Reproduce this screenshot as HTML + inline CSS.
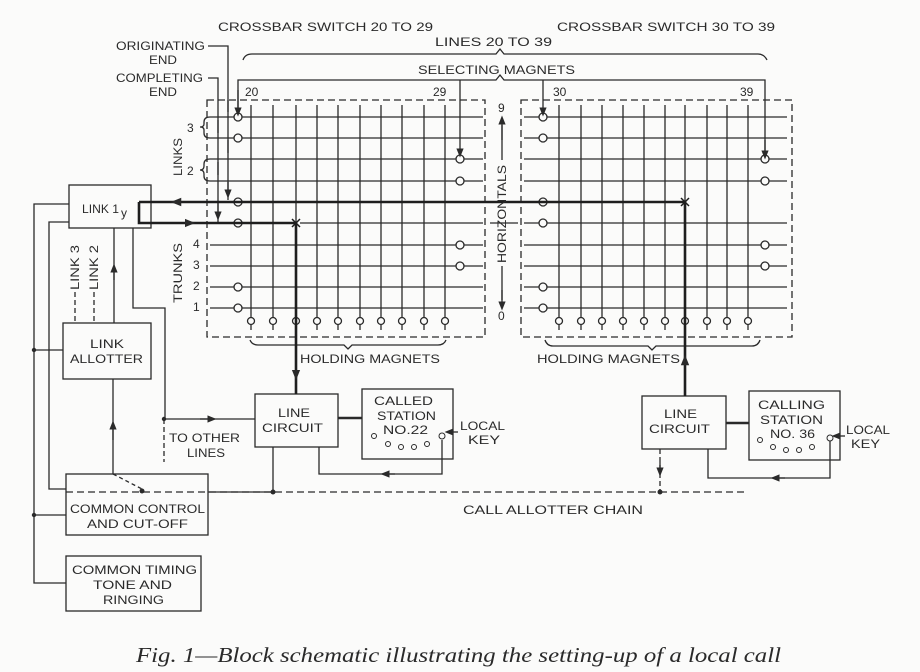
<!DOCTYPE html>
<html><head><meta charset="utf-8"><style>
html,body{margin:0;padding:0;background:#fbfbfa;}
svg{display:block}
text{font-family:"Liberation Sans",sans-serif;font-size:12px;fill:#2a2a2a}
.cap{font-family:"Liberation Serif",serif;font-style:italic;font-size:21px}
</style></head><body>
<svg width="920" height="672" viewBox="0 0 920 672" xmlns="http://www.w3.org/2000/svg">
<defs>
<marker id="a" viewBox="0 0 10 10" refX="5" refY="5" markerWidth="7" markerHeight="7" orient="auto-start-reverse"><path d="M0,1 L10,5 L0,9 z" fill="#2a2a2a"/></marker>
</defs>
<g stroke="#2a2a2a" stroke-width="1.3" fill="none">
<rect x="207" y="100" width="278" height="237" stroke-dasharray="7,4"/>
<rect x="521" y="100" width="271" height="237" stroke-dasharray="7,4"/>
<path d="M210 117H483M210 138H483M210 159H483M210 181H483M210 245H483M210 266H483M210 287H483M210 308H483"/>
<path d="M524 117H787M524 138H787M524 159H787M524 181H787M524 223H787M524 245H787M524 266H787M524 287H787M524 308H787"/>
<path d="M485 202H521M210 223H230M300 223H483M490 223H518"/>
<path d="M251 105V330M273 105V330M296 105V223M317 105V330M338 105V330M360 105V330M381 105V330M402 105V330M424 105V330M445 105V330"/>
<path d="M559 105V330M581 105V330M602 105V330M623 105V330M644 105V330M665 105V330M685 105V202M707 105V330M727 105V330M748 105V330"/>
</g>
<g stroke="#2a2a2a" stroke-width="1.3" fill="#fbfbfa">
<circle cx="238" cy="117" r="4"/><circle cx="238" cy="138" r="4"/><circle cx="238" cy="202" r="4"/><circle cx="238" cy="223" r="4"/><circle cx="238" cy="287" r="4"/><circle cx="238" cy="308" r="4"/>
<circle cx="460" cy="159" r="4"/><circle cx="460" cy="181" r="4"/><circle cx="460" cy="245" r="4"/><circle cx="460" cy="266" r="4"/>
<circle cx="543" cy="117" r="4"/><circle cx="543" cy="138" r="4"/><circle cx="543" cy="202" r="4"/><circle cx="543" cy="223" r="4"/><circle cx="543" cy="287" r="4"/><circle cx="543" cy="308" r="4"/>
<circle cx="765" cy="159" r="4"/><circle cx="765" cy="181" r="4"/><circle cx="765" cy="245" r="4"/><circle cx="765" cy="266" r="4"/>
<circle cx="251" cy="321" r="3.5"/><circle cx="273" cy="321" r="3.5"/><circle cx="296" cy="321" r="3.5"/><circle cx="317" cy="321" r="3.5"/><circle cx="338" cy="321" r="3.5"/><circle cx="360" cy="321" r="3.5"/><circle cx="381" cy="321" r="3.5"/><circle cx="402" cy="321" r="3.5"/><circle cx="424" cy="321" r="3.5"/><circle cx="445" cy="321" r="3.5"/>
<circle cx="559" cy="321" r="3.5"/><circle cx="581" cy="321" r="3.5"/><circle cx="602" cy="321" r="3.5"/><circle cx="623" cy="321" r="3.5"/><circle cx="644" cy="321" r="3.5"/><circle cx="665" cy="321" r="3.5"/><circle cx="685" cy="321" r="3.5"/><circle cx="707" cy="321" r="3.5"/><circle cx="727" cy="321" r="3.5"/><circle cx="748" cy="321" r="3.5"/>
</g>
<g stroke="#2a2a2a" stroke-width="1.3" fill="none">
<path d="M243 60Q245 54 252 54H496L500 49L504 54H758Q764 54 767 60"/>
<path d="M238 112V80H496L500 75L504 80H765V155"/>
<path d="M460 80V153" marker-end="url(#a)"/>
<path d="M543 80V112" marker-end="url(#a)"/>
<path d="M238 90V112" marker-end="url(#a)"/>
<path d="M765 140V155" marker-end="url(#a)"/>
<path d="M208 46H228V200"/>
<path d="M228 100V112M228 140V153M228 182V194" marker-end="url(#a)"/>
<path d="M208 78H218V223"/>
<path d="M218 120V133M218 162V175M218 203V216" marker-end="url(#a)"/>
<path d="M210 117Q204 117 204 122V124Q204 127 200 127Q204 127 204 130V133Q204 138 210 138"/>
<path d="M210 159Q204 159 204 164V166Q204 170 200 170Q204 170 204 174V176Q204 181 210 181"/>
<path d="M502 125V160M502 266V300"/>
<path d="M502 140V120" marker-end="url(#a)"/>
<path d="M502 290V306" marker-end="url(#a)"/>
<path d="M250 340Q252 345 258 345H344L348 349L352 345H438Q444 345 446 340"/>
<path d="M545 340Q547 346 553 346H648L652 350L656 346H752Q758 346 760 340"/>
<rect x="69" y="185" width="82" height="43"/>
<rect x="63" y="323" width="88" height="56"/>
<rect x="66" y="474" width="142" height="61"/>
<rect x="66" y="556" width="135" height="55"/>
<rect x="255" y="394" width="83" height="53"/>
<rect x="362" y="389" width="91" height="70"/>
<rect x="642" y="396" width="84" height="53"/>
<rect x="749" y="391" width="91" height="69"/>
<path d="M69 204H34V583H66M34 350H63M34 515H66"/>
<path d="M69 222H49V489H66"/>
<path d="M75 292V323M94 292V323" stroke-dasharray="5,3"/>
<path d="M114 323V228"/>
<path d="M114 280V268" marker-end="url(#a)"/>
<path d="M133 228V308H165V419H255"/>
<path d="M200 419H212" marker-end="url(#a)"/>
<path d="M164 419V462" stroke-dasharray="5,3"/>
<path d="M113 379V474"/>
<path d="M113 440V425" marker-end="url(#a)"/>
<path d="M113 474L142 489" stroke-dasharray="4,3"/>
<path d="M66 492H748" stroke-dasharray="7,4"/>
<path d="M208 492H272"/>
<path d="M273 447V492"/>
<path d="M660 449V490" stroke-dasharray="5,3"/>
<path d="M660 462V472" marker-end="url(#a)"/>
<path d="M319 447V474H442V440"/>
<path d="M395 474H385" marker-end="url(#a)"/>
<path d="M708 449V478H830V440"/>
<path d="M785 478H775" marker-end="url(#a)"/>
<path d="M338 418H362M726 423H749" stroke-width="2.5"/>
<path d="M458 432H449" marker-end="url(#a)"/>
<path d="M845 436H836" marker-end="url(#a)"/>
</g>
<g stroke="#1e1e1e" stroke-width="2.6" fill="none">
<path d="M139 202H685V396"/>
<path d="M139 202V223H296V394"/>
<path d="M190 202H176" marker-end="url(#a)" stroke-width="1.5"/>
<path d="M175 223H190" marker-end="url(#a)" stroke-width="1.5"/>
<path d="M296 360V375" marker-end="url(#a)" stroke-width="1.5"/>
<path d="M685 375V360" marker-end="url(#a)" stroke-width="1.5"/>
<path d="M292 219L300 227M300 219L292 227M681 198L689 206M689 198L681 206" stroke-width="1.5"/>
</g>
<g fill="#2a2a2a">
<circle cx="34" cy="350" r="2.2"/><circle cx="34" cy="515" r="2.2"/><circle cx="164" cy="419" r="2.2"/><circle cx="142" cy="491" r="2.5"/><circle cx="273" cy="492" r="2.5"/><circle cx="660" cy="492" r="2.5"/>
</g>
<g stroke="#2a2a2a" stroke-width="1" fill="#fbfbfa">
<circle cx="374" cy="436" r="2.5"/><circle cx="388" cy="444" r="2.5"/><circle cx="401" cy="447" r="2.5"/><circle cx="414" cy="447" r="2.5"/><circle cx="427" cy="444" r="2.5"/><circle cx="442" cy="436" r="3"/>
<circle cx="760" cy="440" r="2.5"/><circle cx="773" cy="447" r="2.5"/><circle cx="786" cy="450" r="2.5"/><circle cx="799" cy="450" r="2.5"/><circle cx="812" cy="447" r="2.5"/><circle cx="830" cy="438" r="3"/>
</g>
<g>
<text x="218" y="31" textLength="215" lengthAdjust="spacingAndGlyphs">CROSSBAR SWITCH  20 TO 29</text>
<text x="557" y="31" textLength="218" lengthAdjust="spacingAndGlyphs">CROSSBAR SWITCH  30 TO 39</text>
<text x="435" y="46" textLength="117" lengthAdjust="spacingAndGlyphs">LINES 20 TO 39</text>
<text x="418" y="74" textLength="157" lengthAdjust="spacingAndGlyphs">SELECTING MAGNETS</text>
<text x="116" y="50" textLength="89" lengthAdjust="spacingAndGlyphs">ORIGINATING</text>
<text x="149" y="64" textLength="28" lengthAdjust="spacingAndGlyphs">END</text>
<text x="116" y="82" textLength="87" lengthAdjust="spacingAndGlyphs">COMPLETING</text>
<text x="149" y="96" textLength="28" lengthAdjust="spacingAndGlyphs">END</text>
<text x="245" y="96">20</text><text x="433" y="96">29</text>
<text x="553" y="96">30</text><text x="740" y="96">39</text>
<text x="187" y="132">3</text><text x="187" y="175">2</text>
<text x="193" y="248">4</text><text x="193" y="269">3</text><text x="193" y="290">2</text><text x="193" y="311">1</text>
<text x="498" y="112">9</text><text x="498" y="320">0</text>
<text transform="translate(182,176) rotate(-90)" textLength="38" lengthAdjust="spacingAndGlyphs">LINKS</text>
<text transform="translate(182,303) rotate(-90)" textLength="60" lengthAdjust="spacingAndGlyphs">TRUNKS</text>
<text transform="translate(506,263) rotate(-90)" textLength="98" lengthAdjust="spacingAndGlyphs">HORIZONTALS</text>
<text transform="translate(79,290) rotate(-90)" textLength="45" lengthAdjust="spacingAndGlyphs">LINK 3</text>
<text transform="translate(98,290) rotate(-90)" textLength="45" lengthAdjust="spacingAndGlyphs">LINK 2</text>
<text x="82" y="213" textLength="37" lengthAdjust="spacingAndGlyphs">LINK 1</text><text x="121" y="217" font-size="8">y</text>
<text x="90" y="348" textLength="34" lengthAdjust="spacingAndGlyphs">LINK</text><text x="70" y="363" textLength="73" lengthAdjust="spacingAndGlyphs">ALLOTTER</text>
<text x="300" y="363" textLength="140" lengthAdjust="spacingAndGlyphs">HOLDING MAGNETS</text>
<text x="537" y="363" textLength="143" lengthAdjust="spacingAndGlyphs">HOLDING MAGNETS</text>
<text x="278" y="417" textLength="32" lengthAdjust="spacingAndGlyphs">LINE</text><text x="262" y="432" textLength="61" lengthAdjust="spacingAndGlyphs">CIRCUIT</text>
<text x="374" y="405" textLength="59" lengthAdjust="spacingAndGlyphs">CALLED</text><text x="377" y="420" textLength="59" lengthAdjust="spacingAndGlyphs">STATION</text><text x="383" y="434" textLength="45" lengthAdjust="spacingAndGlyphs">NO.22</text>
<text x="460" y="430" textLength="45" lengthAdjust="spacingAndGlyphs">LOCAL</text><text x="468" y="444" textLength="32" lengthAdjust="spacingAndGlyphs">KEY</text>
<text x="169" y="442" textLength="71" lengthAdjust="spacingAndGlyphs">TO OTHER</text><text x="187" y="457" textLength="38" lengthAdjust="spacingAndGlyphs">LINES</text>
<text x="664" y="418" textLength="33" lengthAdjust="spacingAndGlyphs">LINE</text><text x="649" y="433" textLength="61" lengthAdjust="spacingAndGlyphs">CIRCUIT</text>
<text x="758" y="409" textLength="67" lengthAdjust="spacingAndGlyphs">CALLING</text><text x="760" y="424" textLength="63" lengthAdjust="spacingAndGlyphs">STATION</text><text x="770" y="438" textLength="45" lengthAdjust="spacingAndGlyphs">NO. 36</text>
<text x="846" y="434" textLength="44" lengthAdjust="spacingAndGlyphs">LOCAL</text><text x="851" y="448" textLength="29" lengthAdjust="spacingAndGlyphs">KEY</text>
<text x="70" y="513" textLength="135" lengthAdjust="spacingAndGlyphs">COMMON CONTROL</text><text x="87" y="528" textLength="101" lengthAdjust="spacingAndGlyphs">AND CUT-OFF</text>
<text x="463" y="514" textLength="180" lengthAdjust="spacingAndGlyphs">CALL ALLOTTER CHAIN</text>
<text x="72" y="574" textLength="125" lengthAdjust="spacingAndGlyphs">COMMON TIMING</text><text x="93" y="589" textLength="79" lengthAdjust="spacingAndGlyphs">TONE AND</text><text x="103" y="604" textLength="61" lengthAdjust="spacingAndGlyphs">RINGING</text>
<text class="cap" x="136" y="662" textLength="645" lengthAdjust="spacingAndGlyphs">Fig. 1—Block schematic illustrating the setting-up of a local call</text>
</g>
</svg>
</body></html>
